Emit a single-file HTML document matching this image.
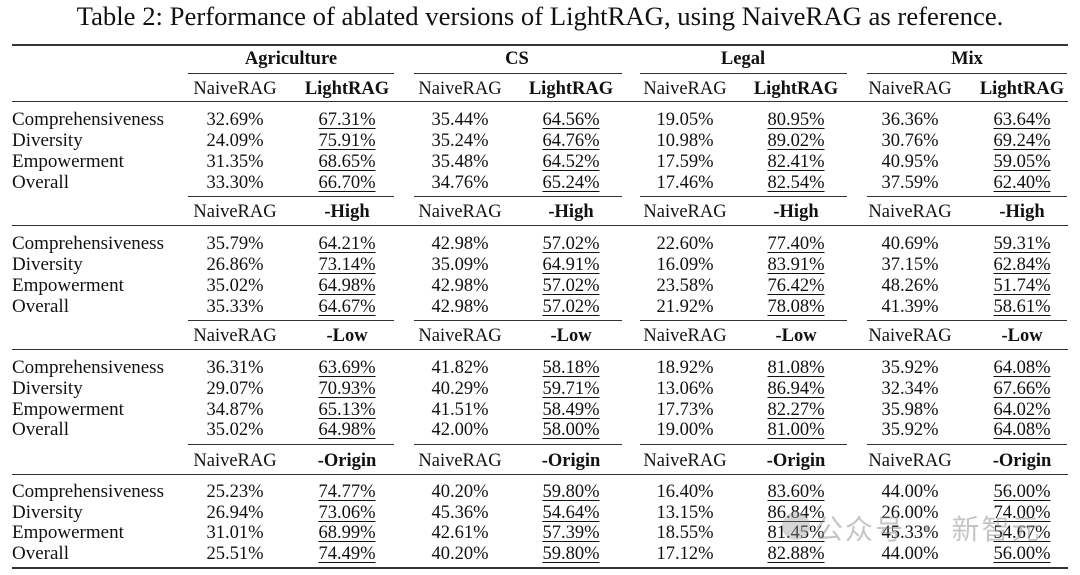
<!DOCTYPE html>
<html><head><meta charset="utf-8">
<style>
body{margin:0;width:1080px;height:575px;background:#fff;position:relative;overflow:hidden;font-family:"Liberation Serif",serif;color:#111;}
.t{position:absolute;left:0;width:1080px;top:1px;text-align:center;font-size:26.7px;}
.r{position:absolute;left:0;width:1080px;height:22px;font-size:18.5px;line-height:22px;}
.r span{position:absolute;width:124px;text-align:center;}
.r .l{left:12px;width:190px;text-align:left;font-size:19px;}
.c1{left:173px}.c2{left:285px}.c3{left:398px}.c4{left:509px}.c5{left:623px}.c6{left:734px}.c7{left:848px}.c8{left:960px}
.u{text-decoration:underline;text-decoration-thickness:1px;text-underline-offset:3px;}
b{font-weight:bold}
.h{position:absolute;height:0;border-top:1px solid #333;}
</style></head><body>
<div class="t">Table 2: Performance of ablated versions of LightRAG, using NaiveRAG as reference.</div>
<div class="h" style="left:12px;width:1056px;top:44px;border-top-width:2px"></div>
<div class="r" style="top:48px;font-weight:bold"><span style="left:229px;width:124px">Agriculture</span><span style="left:455px;width:124px">CS</span><span style="left:681px;width:124px">Legal</span><span style="left:905px;width:124px">Mix</span></div>
<div class="h" style="left:188px;width:206px;top:73px"></div><div class="h" style="left:414px;width:208px;top:73px"></div><div class="h" style="left:640px;width:207px;top:73px"></div><div class="h" style="left:867px;width:200px;top:73px"></div>
<div class="r" style="top:78px"><span class="c1">NaiveRAG</span><span class="c2"><b>LightRAG</b></span><span class="c3">NaiveRAG</span><span class="c4"><b>LightRAG</b></span><span class="c5">NaiveRAG</span><span class="c6"><b>LightRAG</b></span><span class="c7">NaiveRAG</span><span class="c8"><b>LightRAG</b></span></div>
<div class="h" style="left:12px;width:1056px;top:101px"></div>
<div class="r" style="top:109px"><span class="l">Comprehensiveness</span><span class="c1">32.69%</span><span class="c2 u">67.31%</span><span class="c3">35.44%</span><span class="c4 u">64.56%</span><span class="c5">19.05%</span><span class="c6 u">80.95%</span><span class="c7">36.36%</span><span class="c8 u">63.64%</span></div>
<div class="r" style="top:130px"><span class="l">Diversity</span><span class="c1">24.09%</span><span class="c2 u">75.91%</span><span class="c3">35.24%</span><span class="c4 u">64.76%</span><span class="c5">10.98%</span><span class="c6 u">89.02%</span><span class="c7">30.76%</span><span class="c8 u">69.24%</span></div>
<div class="r" style="top:151px"><span class="l">Empowerment</span><span class="c1">31.35%</span><span class="c2 u">68.65%</span><span class="c3">35.48%</span><span class="c4 u">64.52%</span><span class="c5">17.59%</span><span class="c6 u">82.41%</span><span class="c7">40.95%</span><span class="c8 u">59.05%</span></div>
<div class="r" style="top:172px"><span class="l">Overall</span><span class="c1">33.30%</span><span class="c2 u">66.70%</span><span class="c3">34.76%</span><span class="c4 u">65.24%</span><span class="c5">17.46%</span><span class="c6 u">82.54%</span><span class="c7">37.59%</span><span class="c8 u">62.40%</span></div>
<div class="h" style="left:188px;width:206px;top:196px"></div><div class="h" style="left:414px;width:208px;top:196px"></div><div class="h" style="left:640px;width:207px;top:196px"></div><div class="h" style="left:867px;width:200px;top:196px"></div>
<div class="r" style="top:201px"><span class="c1">NaiveRAG</span><span class="c2"><b>-High</b></span><span class="c3">NaiveRAG</span><span class="c4"><b>-High</b></span><span class="c5">NaiveRAG</span><span class="c6"><b>-High</b></span><span class="c7">NaiveRAG</span><span class="c8"><b>-High</b></span></div>
<div class="h" style="left:12px;width:1056px;top:225px"></div>
<div class="r" style="top:233px"><span class="l">Comprehensiveness</span><span class="c1">35.79%</span><span class="c2 u">64.21%</span><span class="c3">42.98%</span><span class="c4 u">57.02%</span><span class="c5">22.60%</span><span class="c6 u">77.40%</span><span class="c7">40.69%</span><span class="c8 u">59.31%</span></div>
<div class="r" style="top:254px"><span class="l">Diversity</span><span class="c1">26.86%</span><span class="c2 u">73.14%</span><span class="c3">35.09%</span><span class="c4 u">64.91%</span><span class="c5">16.09%</span><span class="c6 u">83.91%</span><span class="c7">37.15%</span><span class="c8 u">62.84%</span></div>
<div class="r" style="top:275px"><span class="l">Empowerment</span><span class="c1">35.02%</span><span class="c2 u">64.98%</span><span class="c3">42.98%</span><span class="c4 u">57.02%</span><span class="c5">23.58%</span><span class="c6 u">76.42%</span><span class="c7">48.26%</span><span class="c8 u">51.74%</span></div>
<div class="r" style="top:296px"><span class="l">Overall</span><span class="c1">35.33%</span><span class="c2 u">64.67%</span><span class="c3">42.98%</span><span class="c4 u">57.02%</span><span class="c5">21.92%</span><span class="c6 u">78.08%</span><span class="c7">41.39%</span><span class="c8 u">58.61%</span></div>
<div class="h" style="left:188px;width:206px;top:320px"></div><div class="h" style="left:414px;width:208px;top:320px"></div><div class="h" style="left:640px;width:207px;top:320px"></div><div class="h" style="left:867px;width:200px;top:320px"></div>
<div class="r" style="top:325px"><span class="c1">NaiveRAG</span><span class="c2"><b>-Low</b></span><span class="c3">NaiveRAG</span><span class="c4"><b>-Low</b></span><span class="c5">NaiveRAG</span><span class="c6"><b>-Low</b></span><span class="c7">NaiveRAG</span><span class="c8"><b>-Low</b></span></div>
<div class="h" style="left:12px;width:1056px;top:349px"></div>
<div class="r" style="top:357px"><span class="l">Comprehensiveness</span><span class="c1">36.31%</span><span class="c2 u">63.69%</span><span class="c3">41.82%</span><span class="c4 u">58.18%</span><span class="c5">18.92%</span><span class="c6 u">81.08%</span><span class="c7">35.92%</span><span class="c8 u">64.08%</span></div>
<div class="r" style="top:378px"><span class="l">Diversity</span><span class="c1">29.07%</span><span class="c2 u">70.93%</span><span class="c3">40.29%</span><span class="c4 u">59.71%</span><span class="c5">13.06%</span><span class="c6 u">86.94%</span><span class="c7">32.34%</span><span class="c8 u">67.66%</span></div>
<div class="r" style="top:399px"><span class="l">Empowerment</span><span class="c1">34.87%</span><span class="c2 u">65.13%</span><span class="c3">41.51%</span><span class="c4 u">58.49%</span><span class="c5">17.73%</span><span class="c6 u">82.27%</span><span class="c7">35.98%</span><span class="c8 u">64.02%</span></div>
<div class="r" style="top:419px"><span class="l">Overall</span><span class="c1">35.02%</span><span class="c2 u">64.98%</span><span class="c3">42.00%</span><span class="c4 u">58.00%</span><span class="c5">19.00%</span><span class="c6 u">81.00%</span><span class="c7">35.92%</span><span class="c8 u">64.08%</span></div>
<div class="h" style="left:188px;width:206px;top:444px"></div><div class="h" style="left:414px;width:208px;top:444px"></div><div class="h" style="left:640px;width:207px;top:444px"></div><div class="h" style="left:867px;width:200px;top:444px"></div>
<div class="r" style="top:450px"><span class="c1">NaiveRAG</span><span class="c2"><b>-Origin</b></span><span class="c3">NaiveRAG</span><span class="c4"><b>-Origin</b></span><span class="c5">NaiveRAG</span><span class="c6"><b>-Origin</b></span><span class="c7">NaiveRAG</span><span class="c8"><b>-Origin</b></span></div>
<div class="h" style="left:12px;width:1056px;top:474px"></div>
<div class="r" style="top:481px"><span class="l">Comprehensiveness</span><span class="c1">25.23%</span><span class="c2 u">74.77%</span><span class="c3">40.20%</span><span class="c4 u">59.80%</span><span class="c5">16.40%</span><span class="c6 u">83.60%</span><span class="c7">44.00%</span><span class="c8 u">56.00%</span></div>
<div class="r" style="top:502px"><span class="l">Diversity</span><span class="c1">26.94%</span><span class="c2 u">73.06%</span><span class="c3">45.36%</span><span class="c4 u">54.64%</span><span class="c5">13.15%</span><span class="c6 u">86.84%</span><span class="c7">26.00%</span><span class="c8 u">74.00%</span></div>
<div class="r" style="top:522px"><span class="l">Empowerment</span><span class="c1">31.01%</span><span class="c2 u">68.99%</span><span class="c3">42.61%</span><span class="c4 u">57.39%</span><span class="c5">18.55%</span><span class="c6 u">81.45%</span><span class="c7">45.33%</span><span class="c8 u">54.67%</span></div>
<div class="r" style="top:543px"><span class="l">Overall</span><span class="c1">25.51%</span><span class="c2 u">74.49%</span><span class="c3">40.20%</span><span class="c4 u">59.80%</span><span class="c5">17.12%</span><span class="c6 u">82.88%</span><span class="c7">44.00%</span><span class="c8 u">56.00%</span></div>
<div class="h" style="left:12px;width:1056px;top:567px;border-top-width:2px"></div>
<div style="position:absolute;left:782px;top:512px;width:28px;height:28px;border-radius:50%;background:rgba(150,150,150,0.4)"></div>
<div style="position:absolute;left:815px;top:508px;font-size:28px;color:rgba(140,140,140,0.5);font-family:'Noto Sans CJK SC',sans-serif;letter-spacing:2px">公众号 · 新智元</div>
</body></html>
